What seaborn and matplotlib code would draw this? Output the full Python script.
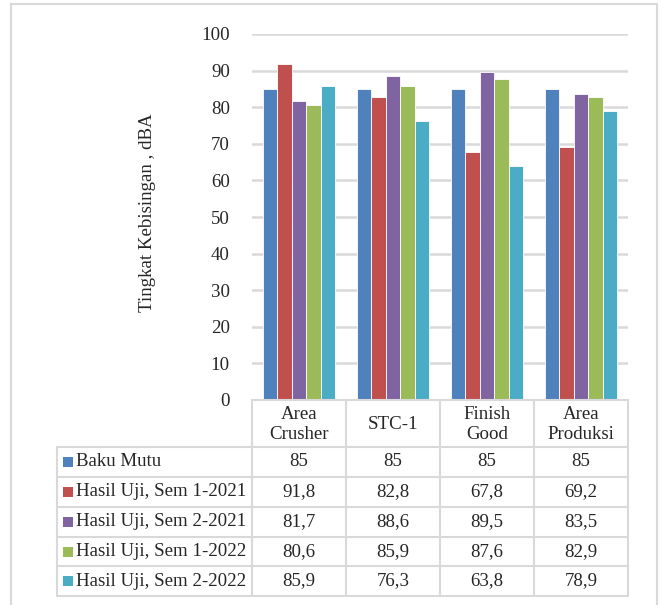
import matplotlib
matplotlib.use("Agg")
import matplotlib.pyplot as plt
import matplotlib.transforms as mtransforms
from matplotlib.patches import Rectangle
from matplotlib.lines import Line2D
import seaborn as sns
import pandas as pd

# Lokasi pengukuran
categories = ["Area\nCrusher", "STC-1", "Finish\nGood", "Area\nProduksi"]
series_names = [
    "Baku Mutu",
    "Hasil Uji, Sem 1-2021",
    "Hasil Uji, Sem 2-2021",
    "Hasil Uji, Sem 1-2022",
    "Hasil Uji, Sem 2-2022",
]
baku_mutu = [85, 85, 85, 85]
sem1_2021 = [91.8, 82.8, 67.8, 69.2]
sem2_2021 = [81.7, 88.6, 89.5, 83.5]
sem1_2022 = [80.6, 85.9, 87.6, 82.9]
sem2_2022 = [85.9, 76.3, 63.8, 78.9]
y_ticks = [0, 10, 20, 30, 40, 50, 60, 70, 80, 90, 100]

series_values = [baku_mutu, sem1_2021, sem2_2021, sem1_2022, sem2_2022]
colors = ["#4F81BD", "#C0504D", "#8064A2", "#9BBB59", "#4BACC6"]

rows = []
for name, vals in zip(series_names, series_values):
    for cat, v in zip(categories, vals):
        rows.append({"Lokasi": cat, "Seri": name, "Nilai": v})
df = pd.DataFrame(rows)

sns.set_style("white")
plt.rcParams["font.family"] = ["Liberation Serif", "DejaVu Serif"]
FS = 13.6
GRID = "#d9d9d9"

W, H = 662, 605
fig = plt.figure(figsize=(W / 100, H / 100), dpi=100)


def fx(x):
    return x / W


def fy(y):
    return 1 - y / H


# outer frame
fig.add_artist(Rectangle((fx(11), fy(608)), fx(657) - fx(11), fy(4) - fy(608),
                         transform=fig.transFigure, fill=False,
                         edgecolor=GRID, linewidth=1.5))

ax = fig.add_axes([fx(252), fy(400), fx(628) - fx(252), fy(34) - fy(400)])
sns.barplot(data=df, x="Lokasi", y="Nilai", hue="Seri", order=categories,
            hue_order=series_names, palette=colors, width=0.766,
            saturation=1, errorbar=None, legend=False, ax=ax,
            edgecolor="white", linewidth=0.6)

ax.set_xlim(-0.5, len(categories) - 0.5)
ax.set_ylim(0, 100)
ax.set_yticks(y_ticks)
ax.set_yticklabels([str(t) for t in y_ticks], fontsize=FS)
ax.set_xticks([])
ax.set_xlabel("")
ax.set_ylabel("")
ax.tick_params(axis="y", length=0, pad=16)
ax.yaxis.grid(True, color=GRID, linewidth=1.8)
ax.set_axisbelow(True)
for s in ax.spines.values():
    s.set_visible(False)

fig.text(fx(147), fy(213), "Tingkat Kebisingan , dBA", rotation=90,
         ha="center", va="center", fontsize=FS)

# data table below the axis
blend = mtransforms.blended_transform_factory(ax.transData, fig.transFigure)
n = len(categories)
x_bounds = [i - 0.5 for i in range(n + 1)]
header_top, header_bot = 400, 447
row_lines = [447, 477, 507, 537, 566, 596]
lw = 1.5

# horizontal lines
fig.add_artist(Line2D([x_bounds[0], x_bounds[-1]], [fy(header_top)] * 2,
                      transform=blend, color=GRID, linewidth=lw))
for y in row_lines:
    line = Line2D([fx(57), fx(628)], [fy(y)] * 2, transform=fig.transFigure,
                  color=GRID, linewidth=lw)
    fig.add_artist(line)
# vertical lines
for xb in x_bounds:
    fig.add_artist(Line2D([xb, xb], [fy(header_top), fy(row_lines[-1])],
                          transform=blend, color=GRID, linewidth=lw))
fig.add_artist(Line2D([fx(57), fx(57)], [fy(row_lines[0]), fy(row_lines[-1])],
                      transform=fig.transFigure, color=GRID, linewidth=lw))

# header cells
for i, cat in enumerate(categories):
    fig.text(i, fy((header_top + header_bot) / 2 + 1), cat, transform=blend,
             ha="center", va="center", fontsize=FS, linespacing=1.25)


def fmt(v):
    return f"{v:g}".replace(".", ",")


for r, (name, vals, c) in enumerate(zip(series_names, series_values, colors)):
    yc = (row_lines[r] + row_lines[r + 1]) / 2
    fig.add_artist(Rectangle((fx(62.5), fy(yc + 5)), fx(10), fy(yc - 5) - fy(yc + 5),
                             transform=fig.transFigure, facecolor=c,
                             edgecolor="none"))
    fig.text(fx(76), fy(yc), name, ha="left", va="center", fontsize=FS)
    for i, v in enumerate(vals):
        fig.text(i, fy(yc), fmt(v), transform=blend, ha="center",
                 va="center", fontsize=FS)

fig.savefig("out.png", dpi=100)
